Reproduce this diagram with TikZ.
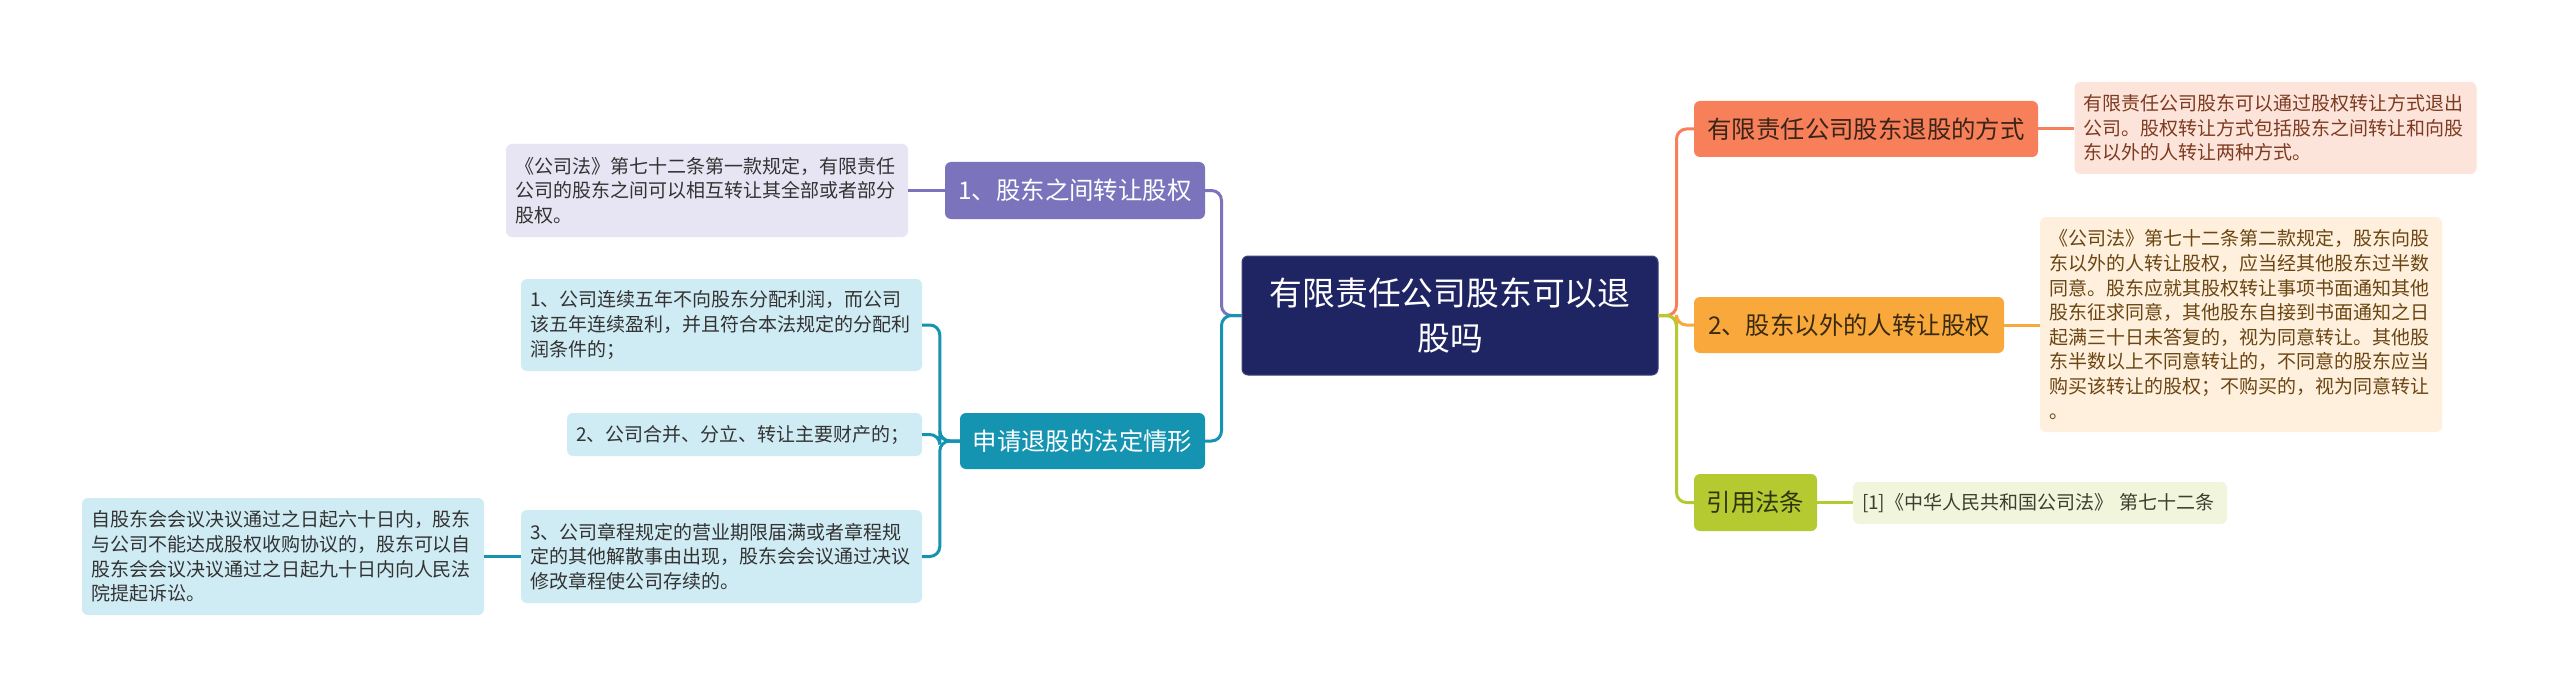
\documentclass[tikz,border=0pt]{standalone}
\usepackage{fontspec}
\setmainfont{Noto Sans CJK SC}
\definecolor{rootc}{HTML}{1F2563}
\definecolor{purc}{HTML}{7B74BD}
\definecolor{purl}{HTML}{E7E5F3}
\definecolor{tealc}{HTML}{1494B1}
\definecolor{teall}{HTML}{CFEBF3}
\definecolor{coralc}{HTML}{F7805A}
\definecolor{corall}{HTML}{FCE4DB}
\definecolor{orc}{HTML}{F9A93B}
\definecolor{orl}{HTML}{FEF0DC}
\definecolor{grc}{HTML}{B5CA30}
\definecolor{grl}{HTML}{F1F5DC}
\definecolor{darktxt}{HTML}{333333}
\definecolor{latxt}{HTML}{7E3A20}
\definecolor{lbtxt}{HTML}{6B4513}
\definecolor{lctxt}{HTML}{3E3E2E}
\definecolor{tatxt}{HTML}{3A2418}
\definecolor{tbtxt}{HTML}{3A2A10}
\definecolor{tctxt}{HTML}{2E3510}
\begin{document}
\begin{tikzpicture}[x=1pt,y=-1pt,
  rootbox/.style={rounded corners=6pt, inner sep=0pt, align=center, fill=rootc, draw=rootc!85!white, line width=1pt, text=white, font=\fontsize{32.8}{45}\selectfont},
  topic/.style={rounded corners=6pt, inner sep=0pt, align=center, font=\fontsize{24.4}{30}\selectfont},
  leaf/.style={rounded corners=6pt, inner xsep=9pt, inner ysep=0pt, align=left, font=\fontsize{19}{24.6}\selectfont},
  conn/.style={line width=3pt, rounded corners=10pt},
]
\useasboundingbox[fill=white] (0,0) rectangle (2560,698);

% root
\node[rootbox, minimum width=416pt, minimum height=119pt] (root) at (1450,315.5) {有限责任公司股东可以退\\股吗};

% left side
\node[topic, fill=purc, text=white, minimum width=260pt, minimum height=57pt] (b1) at (1075,190.5) {1、股东之间转让股权};
\node[leaf, fill=purl, text=darktxt, text width=384pt, minimum height=93pt] (p1) at (707,190.5) {《公司法》第七十二条第一款规定，有限责任\\公司的股东之间可以相互转让其全部或者部分\\股权。};

\node[topic, fill=tealc, text=white, minimum width=245pt, minimum height=56pt] (sq) at (1082.5,441) {申请退股的法定情形};
\node[leaf, fill=teall, text=darktxt, text width=383pt, minimum height=92pt] (l1) at (721.5,325) {1、公司连续五年不向股东分配利润，而公司\\该五年连续盈利，并且符合本法规定的分配利\\润条件的；};
\node[leaf, fill=teall, text=darktxt, text width=337pt, minimum height=43pt] (l2) at (744.5,434.5) {2、公司合并、分立、转让主要财产的；};
\node[leaf, fill=teall, text=darktxt, text width=383pt, minimum height=93pt] (l3) at (721.5,556.5) {3、公司章程规定的营业期限届满或者章程规\\定的其他解散事由出现，股东会会议通过决议\\修改章程使公司存续的。};
\node[leaf, fill=teall, text=darktxt, text width=384pt, minimum height=117pt] (fl) at (283,556.5) {自股东会会议决议通过之日起六十日内，股东\\与公司不能达成股权收购协议的，股东可以自\\股东会会议决议通过之日起九十日内向人民法\\院提起诉讼。};

% right side
\node[topic, fill=coralc, text=tatxt, minimum width=344pt, minimum height=56pt] (ta) at (1866,129) {有限责任公司股东退股的方式};
\node[leaf, fill=corall, text=latxt, text width=384pt, minimum height=92pt] (la) at (2275.5,128) {有限责任公司股东可以通过股权转让方式退出\\公司。股权转让方式包括股东之间转让和向股\\东以外的人转让两种方式。};

\node[topic, fill=orc, text=tbtxt, minimum width=310pt, minimum height=56pt] (tb) at (1849,325) {2、股东以外的人转让股权};
\node[leaf, fill=orl, text=lbtxt, text width=384pt, minimum height=215pt] (lb) at (2241,324.5) {《公司法》第七十二条第二款规定，股东向股\\东以外的人转让股权，应当经其他股东过半数\\同意。股东应就其股权转让事项书面通知其他\\股东征求同意，其他股东自接到书面通知之日\\起满三十日未答复的，视为同意转让。其他股\\东半数以上不同意转让的，不同意的股东应当\\购买该转让的股权；不购买的，视为同意转让\\。};

\node[topic, fill=grc, text=tctxt, minimum width=123pt, minimum height=57pt] (tc) at (1755.5,502.5) {引用法条};
\node[leaf, fill=grl, text=lctxt, text width=356pt, minimum height=42pt] (lc) at (2040,503) {[1]《中华人民共和国公司法》 第七十二条};

% connectors
\draw[conn, coralc] (root.east) -- ++(18,0) |- (ta.west);
\draw[conn, orc] (root.east) -- ++(18,0) |- (tb.west);
\draw[conn, grc] (root.east) -- ++(18,0) |- (tc.west);
\draw[conn, purc] (root.west) -- ++(-20,0) |- (b1.east);
\draw[conn, tealc] (root.west) -- ++(-20,0) |- (sq.east);
\draw[conn, tealc] (sq.west) -- ++(-20,0) |- (l1.east);
\draw[conn, tealc] (sq.west) -- ++(-20,0) |- (l2.east);
\draw[conn, tealc] (sq.west) -- ++(-20,0) |- (l3.east);
\draw[conn, purc] (b1.west) -- (p1.east);
\draw[conn, tealc] (l3.west) -- (fl.east);
\draw[conn, coralc] (ta.east) -- (ta.east -| la.west);
\draw[conn, orc] (tb.east) -- (tb.east -| lb.west);
\draw[conn, grc] (tc.east) -- (tc.east -| lc.west);
\end{tikzpicture}
\end{document}
